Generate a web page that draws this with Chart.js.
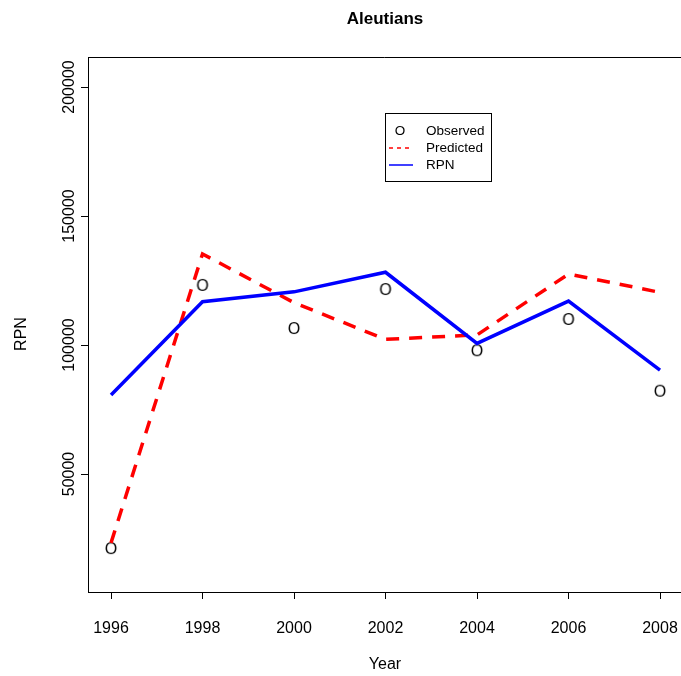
<!DOCTYPE html>
<html>
<head>
<meta charset="utf-8">
<script src="https://cdn.jsdelivr.net/npm/chart.js@4"></script>
<style>
  body { margin: 0; overflow: hidden; background: #fff; }
</style>
</head>
<body>
<canvas id="rpnChart" width="681" height="676"></canvas>
<script>
// Data
const years = [1996, 1998, 2000, 2002, 2004, 2006, 2008];
const observed = [20900, 122900, 106200, 121300, 97600, 109700, 81900];
const predicted = [23300, 135300, 116400, 102200, 103900, 127500, 120400];
const rpn = [80600, 116800, 120600, 128200, 100600, 117000, 90300];
const yTicks = [50000, 100000, 150000, 200000];

const FONT = "'Liberation Sans', Arial, sans-serif";

// "O" marker like R's pch = "O"
const mark = document.createElement('canvas');
mark.width = 16; mark.height = 18;
const mctx = mark.getContext('2d');
mctx.font = '16px ' + FONT;
mctx.fillStyle = '#000';
mctx.textAlign = 'center';
mctx.textBaseline = 'middle';
mctx.fillText('O', 8, 9.5);

const pts = vals => years.map((y, i) => ({ x: y, y: vals[i] }));

// box, titles, y labels and legend
const extras = {
  id: 'extras',
  afterDraw(chart) {
    const c = chart.ctx, a = chart.chartArea, ys = chart.scales.y;
    c.save();
    c.strokeStyle = '#000';
    c.lineWidth = 1;
    c.beginPath();
    c.moveTo(a.left + 0.5, a.bottom);
    c.lineTo(a.left + 0.5, a.top + 0.5);
    c.lineTo(a.right, a.top + 0.5);
    c.stroke();

    c.fillStyle = '#000';
    c.textAlign = 'center';
    c.textBaseline = 'middle';
    c.font = 'bold 17px ' + FONT;
    c.fillText('Aleutians', 385, 19);
    c.font = '16px ' + FONT;
    c.fillText('Year', 385, 665);

    c.save();
    c.translate(22, 334);
    c.rotate(-Math.PI / 2);
    c.fillText('RPN', 0, 0);
    c.restore();

    ys.ticks.forEach(t => {
      c.save();
      c.translate(70, ys.getPixelForValue(t.value));
      c.rotate(-Math.PI / 2);
      c.fillText(String(t.value), 0, 0);
      c.restore();
    });

    // legend
    c.strokeRect(385.5, 113.5, 106, 68);
    c.font = '13.5px ' + FONT;
    c.textAlign = 'center';
    c.fillText('O', 400, 131);
    c.textAlign = 'left';
    c.fillText('Observed', 426, 131);
    c.fillText('Predicted', 426, 148);
    c.fillText('RPN', 426, 165);
    c.lineWidth = 1.5;
    c.strokeStyle = '#ff0000';
    c.setLineDash([4, 4]);
    c.beginPath(); c.moveTo(389, 148); c.lineTo(413, 148); c.stroke();
    c.setLineDash([]);
    c.strokeStyle = '#0000ff';
    c.beginPath(); c.moveTo(389, 165); c.lineTo(413, 165); c.stroke();
    c.restore();
  }
};

new Chart(document.getElementById('rpnChart'), {
  type: 'line',
  data: {
    datasets: [
      {
        label: 'RPN',
        data: pts(rpn),
        borderColor: '#0000ff',
        borderWidth: 3.5,
        pointRadius: 0,
        tension: 0
      },
      {
        label: 'Predicted',
        data: pts(predicted),
        borderColor: '#ff0000',
        borderWidth: 3.5,
        borderDash: [13, 10],
        pointRadius: 0,
        tension: 0
      },
      {
        label: 'Observed',
        data: pts(observed),
        showLine: false,
        pointStyle: mark,
        pointRadius: 8
      }
    ]
  },
  options: {
    responsive: false,
    animation: false,
    layout: { autoPadding: false, padding: { left: 0, top: 57, right: 0, bottom: 0 } },
    plugins: {
      legend: { display: false },
      tooltip: { enabled: false }
    },
    scales: {
      x: {
        type: 'linear',
        min: 1995.497,
        max: 2008.459,
        afterBuildTicks: s => { s.ticks = years.map(v => ({ value: v })); },
        afterFit: s => { s.height = 84; s.paddingLeft = 0; s.paddingRight = 0; },
        grid: { drawOnChartArea: false, color: '#000', tickLength: 7 },
        border: { color: '#000', width: 1 },
        ticks: {
          color: '#000',
          font: { size: 16, family: FONT },
          padding: 20,
          maxRotation: 0,
          callback: v => String(v)
        }
      },
      y: {
        min: 4264,
        max: 211628,
        afterBuildTicks: s => { s.ticks = yTicks.map(v => ({ value: v })); },
        afterFit: s => { s.width = 88; s.paddingTop = 0; s.paddingBottom = 0; },
        grid: { drawOnChartArea: false, color: '#000', tickLength: 7 },
        border: { color: '#000', width: 1 },
        ticks: { display: false }
      }
    }
  },
  plugins: [extras]
});
</script>
</body>
</html>
